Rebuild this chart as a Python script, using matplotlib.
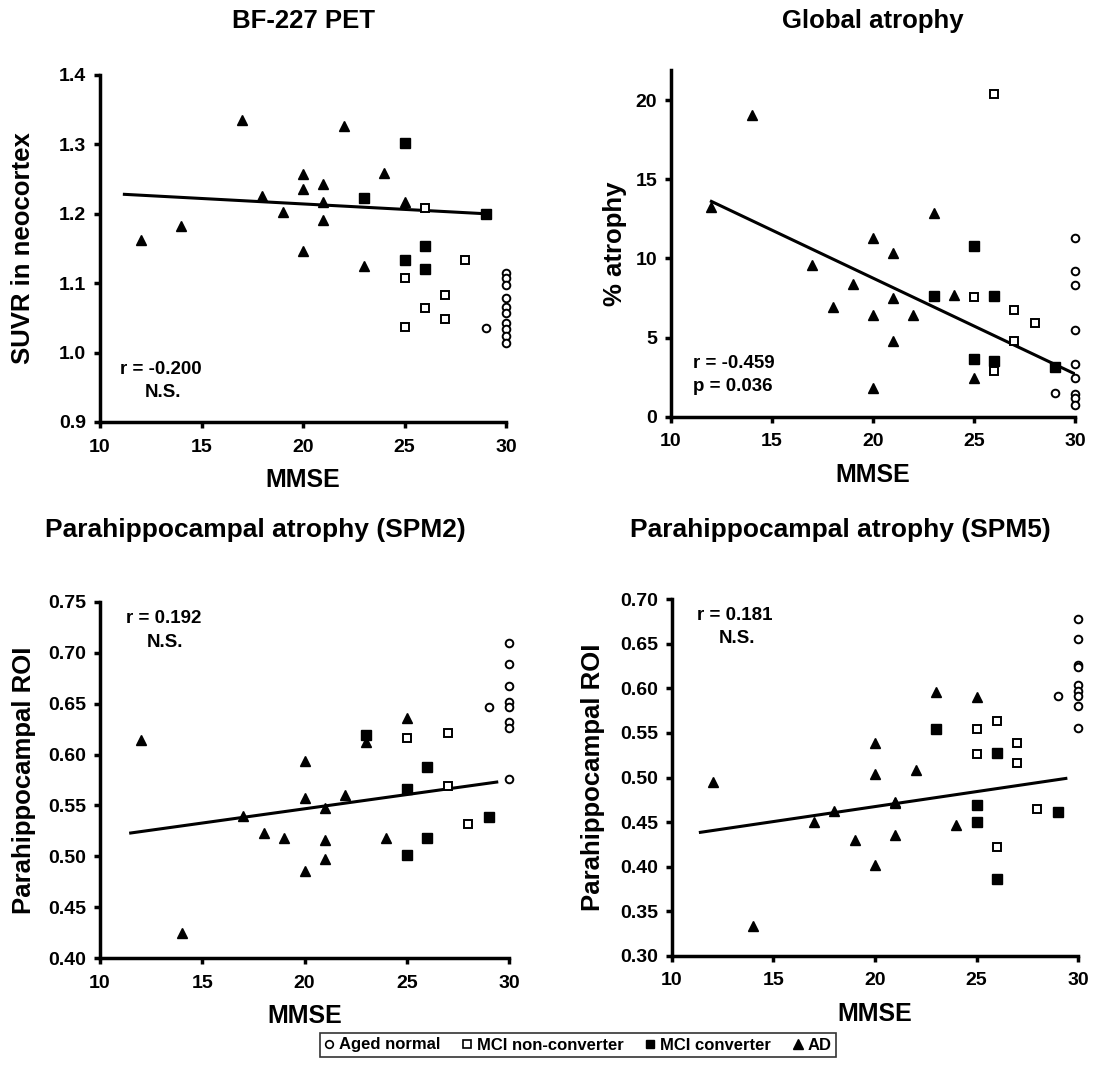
import matplotlib
matplotlib.use("Agg")
import matplotlib.pyplot as plt
from matplotlib.lines import Line2D

plt.rcParams['font.family'] = ['Liberation Sans', 'DejaVu Sans']
plt.rcParams['font.weight'] = 'bold'

# MMSE per group (shared across panels)
ad_mmse = [12, 14, 17, 18, 19, 20, 20, 20, 21, 21, 21, 22, 23, 24, 25]
conv_mmse = [23, 25, 25, 26, 26, 29]
nonconv_mmse = [25, 25, 26, 26, 27, 27, 28]

# BF-227 PET (SUVR in neocortex)
ad_pet = [1.162, 1.183, 1.335, 1.225, 1.203, 1.257, 1.235, 1.146, 1.243, 1.217, 1.191, 1.326, 1.125, 1.259, 1.217]
conv_pet = [1.222, 1.302, 1.134, 1.154, 1.120, 1.199]
nonconv_pet = [1.108, 1.037, 1.208, 1.064, 1.083, 1.049, 1.133]
normal_mmse_pet = [29] + [30] * 10
normal_pet = [1.036, 1.115, 1.107, 1.097, 1.079, 1.066, 1.057, 1.042, 1.034, 1.024, 1.014]
pet_fit_x = [11.2, 29]
pet_fit_y = [1.228, 1.200]

# Global atrophy (%)
ad_atrophy = [13.25, 19.05, 9.56, 6.96, 8.38, 11.29, 6.44, 1.84, 10.34, 7.49, 4.75, 6.44, 12.87, 7.70, 2.43]
conv_atrophy = [7.6, 10.76, 3.63, 7.6, 3.54, 3.16]
nonconv_atrophy = [7.56, 3.63, 20.36, 2.91, 6.71, 4.81, 5.91]
normal_mmse_atrophy = [29] + [30] * 9
normal_atrophy = [1.48, 11.29, 9.18, 8.34, 5.49, 3.34, 2.43, 1.44, 1.16, 0.74]
atrophy_fit_x = [12, 30]
atrophy_fit_y = [13.6, 2.7]

# Parahippocampal ROI (SPM2)
ad_spm2 = [0.614, 0.425, 0.540, 0.523, 0.518, 0.594, 0.557, 0.486, 0.548, 0.516, 0.497, 0.560, 0.612, 0.518, 0.636]
conv_spm2 = [0.619, 0.566, 0.501, 0.588, 0.518, 0.539]
nonconv_spm2 = [0.616, 0.566, 0.588, 0.518, 0.6215, 0.569, 0.5315]
normal_mmse_spm2 = [29] + [30] * 8
normal_spm2 = [0.647, 0.709, 0.689, 0.667, 0.652, 0.647, 0.632, 0.626, 0.576]
spm2_fit_x = [11.5, 29.4]
spm2_fit_y = [0.523, 0.573]

# Parahippocampal ROI (SPM5)
ad_spm5 = [0.495, 0.333, 0.450, 0.462, 0.430, 0.539, 0.504, 0.402, 0.471, 0.435, 0.472, 0.508, 0.596, 0.447, 0.590]
conv_spm5 = [0.555, 0.469, 0.450, 0.528, 0.386, 0.461]
nonconv_spm5 = [0.554, 0.526, 0.563, 0.422, 0.539, 0.516, 0.465]
normal_mmse_spm5 = [29] + [30] * 9
normal_spm5 = [0.591, 0.678, 0.655, 0.626, 0.624, 0.604, 0.597, 0.591, 0.580, 0.556]
spm5_fit_x = [11.4, 29.4]
spm5_fit_y = [0.4385, 0.499]

group_labels = ['Aged normal', 'MCI non-converter', 'MCI converter', 'AD']
x_ticks = [10, 15, 20, 25, 30]

fig = plt.figure(figsize=(10.93, 10.77), dpi=100)

# (left, bottom, width, height) in figure fraction
positions = [
    (0.0915, 0.6082, 0.3715, 0.3222),
    (0.6139, 0.6131, 0.3696, 0.3219),
    (0.0915, 0.1102, 0.3742, 0.3311),
    (0.6148, 0.1126, 0.3715, 0.3309),
]

panels = [
    dict(normal=(normal_mmse_pet, normal_pet), ad=ad_pet, conv=conv_pet, nonconv=nonconv_pet,
         fit=(pet_fit_x, pet_fit_y), ylim=(0.9, 1.4), yticks=[0.9, 1.0, 1.1, 1.2, 1.3, 1.4], fmt='{:.1f}',
         ylabel='SUVR in neocortex', ylab_x=-0.16, xlab_y=-0.133,
         stats=['r = -0.200', 'N.S.'], stat_pos=[(0.049, 0.15), (0.11, 0.086)]),
    dict(normal=(normal_mmse_atrophy, normal_atrophy), ad=ad_atrophy, conv=conv_atrophy, nonconv=nonconv_atrophy,
         fit=(atrophy_fit_x, atrophy_fit_y), ylim=(0, 21.9), yticks=[0, 5, 10, 15, 20], fmt='{:.0f}',
         ylabel='% atrophy', ylab_x=-0.11, xlab_y=-0.133,
         stats=['r = -0.459', 'p = 0.036'], stat_pos=[(0.054, 0.154), (0.054, 0.087)]),
    dict(normal=(normal_mmse_spm2, normal_spm2), ad=ad_spm2, conv=conv_spm2, nonconv=nonconv_spm2,
         fit=(spm2_fit_x, spm2_fit_y), ylim=(0.40, 0.75), yticks=[0.40, 0.45, 0.50, 0.55, 0.60, 0.65, 0.70, 0.75],
         fmt='{:.2f}', ylabel='Parahippocampal ROI', ylab_x=-0.156, xlab_y=-0.129,
         stats=['r = 0.192', 'N.S.'], stat_pos=[(0.064, 0.953), (0.114, 0.885)]),
    dict(normal=(normal_mmse_spm5, normal_spm5), ad=ad_spm5, conv=conv_spm5, nonconv=nonconv_spm5,
         fit=(spm5_fit_x, spm5_fit_y), ylim=(0.30, 0.70), yticks=[0.30, 0.35, 0.40, 0.45, 0.50, 0.55, 0.60, 0.65, 0.70],
         fmt='{:.2f}', ylabel='Parahippocampal ROI', ylab_x=-0.165, xlab_y=-0.129,
         stats=['r = 0.181', 'N.S.'], stat_pos=[(0.062, 0.954), (0.114, 0.89)]),
]

for pos, p in zip(positions, panels):
    ax = fig.add_axes(pos)
    ax.plot(p['fit'][0], p['fit'][1], color='black', lw=2.2, zorder=2)
    ax.plot(p['normal'][0], p['normal'][1], 'o', ms=5.5, mfc='white', mec='black', mew=1.4, clip_on=False, zorder=3)
    ax.plot(nonconv_mmse, p['nonconv'], 's', ms=5.8, mfc='white', mec='black', mew=1.4, clip_on=False, zorder=3)
    ax.plot(conv_mmse, p['conv'], 's', ms=6.5, mfc='black', mec='black', clip_on=False, zorder=4)
    ax.plot(ad_mmse, p['ad'], '^', ms=7.5, mfc='black', mec='black', clip_on=False, zorder=4)

    ax.set_xlim(10, 30)
    ax.set_ylim(*p['ylim'])
    ax.set_xticks(x_ticks)
    ax.set_xticklabels([str(t) for t in x_ticks], fontsize=14, fontweight='bold')
    ax.set_yticks(p['yticks'])
    ax.set_yticklabels([p['fmt'].format(t) for t in p['yticks']], fontsize=14, fontweight='bold')
    for side in ['top', 'right']:
        ax.spines[side].set_visible(False)
    for side in ['left', 'bottom']:
        ax.spines[side].set_linewidth(2.5)
    ax.tick_params(width=2.5, length=4, direction='out')
    ax.tick_params(axis='x', pad=8)
    ax.tick_params(axis='y', pad=6)
    ax.set_xlabel('MMSE', fontsize=18, fontweight='bold')
    ax.set_ylabel(p['ylabel'], fontsize=18.5, fontweight='bold')
    ax.xaxis.set_label_coords(0.5, p['xlab_y'])
    ax.yaxis.set_label_coords(p['ylab_x'], 0.5)

    for txt, (tx, ty) in zip(p['stats'], p['stat_pos']):
        ax.text(tx, ty, txt, transform=ax.transAxes, fontsize=13.5, fontweight='bold', va='center', ha='left')

fig.text(303 / 1093, 1 - 21 / 1077, 'BF-227 PET', ha='center', va='center', fontsize=18.5, fontweight='bold')
fig.text(873 / 1093, 1 - 21 / 1077, 'Global atrophy', ha='center', va='center', fontsize=18.5, fontweight='bold')
fig.text(255 / 1093, 1 - 530 / 1077, 'Parahippocampal atrophy (SPM2)', ha='center', va='center', fontsize=19, fontweight='bold')
fig.text(840 / 1093, 1 - 530 / 1077, 'Parahippocampal atrophy (SPM5)', ha='center', va='center', fontsize=19, fontweight='bold')

handles = [
    Line2D([], [], ls='none', marker='o', ms=5.5, mfc='white', mec='black', mew=1.2),
    Line2D([], [], ls='none', marker='s', ms=5.5, mfc='white', mec='black', mew=1.2),
    Line2D([], [], ls='none', marker='s', ms=5.5, mfc='black', mec='black'),
    Line2D([], [], ls='none', marker='^', ms=6.5, mfc='black', mec='black'),
]
leg = fig.legend(handles, group_labels, loc='center', bbox_to_anchor=(578 / 1093, 1 - 1045 / 1077), ncol=4,
                 frameon=True, fancybox=False, edgecolor='black', prop={'weight': 'bold', 'size': 12},
                 handlelength=0.6, handletextpad=0.3, columnspacing=1.3, borderpad=0.25)
leg.get_frame().set_linewidth(1.2)

fig.savefig('out.png', dpi=100, facecolor='white')
